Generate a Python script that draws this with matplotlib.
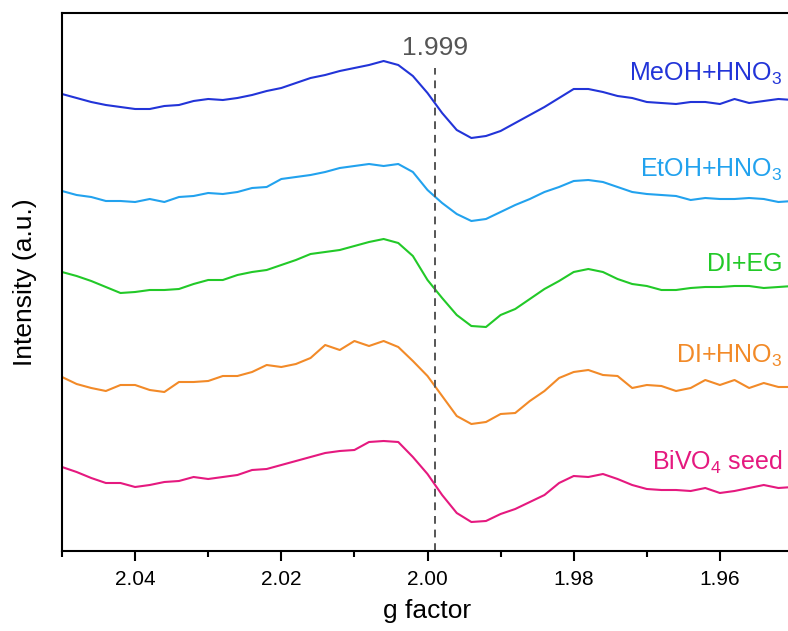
import numpy as np
import matplotlib
matplotlib.use("Agg")
import matplotlib.pyplot as plt
from matplotlib.ticker import MultipleLocator

plt.rcParams['font.family'] = ['Liberation Sans', 'DejaVu Sans']
plt.rcParams['mathtext.fontset'] = 'custom'
plt.rcParams['mathtext.rm'] = 'Liberation Sans'
plt.rcParams['mathtext.it'] = 'Liberation Sans'

# g factor grid (2.050 -> 1.950, step 0.002)
g = [2.050, 2.048, 2.046, 2.044, 2.042, 2.040, 2.038, 2.036, 2.034, 2.032,
     2.030, 2.028, 2.026, 2.024, 2.022, 2.020, 2.018, 2.016, 2.014, 2.012,
     2.010, 2.008, 2.006, 2.004, 2.002, 2.000, 1.998, 1.996, 1.994, 1.992,
     1.990, 1.988, 1.986, 1.984, 1.982, 1.980, 1.978, 1.976, 1.974, 1.972,
     1.970, 1.968, 1.966, 1.964, 1.962, 1.960, 1.958, 1.956, 1.954, 1.952,
     1.950]

# stacked intensities (a.u., offsets included)
meoh = [457, 453, 449, 446, 444, 442, 442, 445, 446, 450,
        452, 451, 453, 456, 460, 463, 468, 473, 476, 480,
        483, 486, 490, 486, 475, 458, 438, 421, 413, 415,
        420, 428, 436, 444, 453, 462, 462, 459, 455, 453,
        449, 448, 447, 449, 449, 447, 452, 448, 450, 452,
        451]
etoh = [360, 356, 354, 350, 350, 349, 352, 349, 354, 355,
        358, 357, 359, 363, 364, 372, 374, 376, 379, 383,
        385, 387, 385, 387, 379, 361, 348, 337, 330, 332,
        339, 346, 352, 359, 364, 370, 371, 369, 364, 359,
        357, 356, 355, 351, 353, 352, 352, 353, 352, 349,
        350]
di_eg = [279, 275, 270, 264, 258, 259, 261, 261, 262, 267,
         271, 271, 276, 279, 281, 286, 291, 297, 299, 301,
         305, 309, 312, 308, 295, 271, 253, 236, 225, 224,
         236, 242, 252, 262, 270, 279, 282, 279, 272, 267,
         265, 261, 261, 263, 264, 264, 265, 265, 263, 264,
         265]
di_hno3 = [174, 167, 163, 160, 166, 166, 161, 159, 169, 169,
           170, 175, 175, 179, 186, 184, 187, 193, 206, 201,
           210, 205, 210, 204, 190, 175, 155, 135, 127, 129,
           137, 138, 150, 160, 173, 179, 181, 176, 175, 163,
           166, 165, 160, 163, 171, 166, 171, 163, 168, 164,
           164]
bivo4 = [84, 79, 73, 68, 68, 64, 66, 69, 70, 74,
         72, 74, 76, 81, 82, 86, 90, 94, 98, 100,
         101, 109, 110, 109, 94, 77, 56, 38, 29, 30,
         37, 42, 49, 56, 68, 75, 74, 77, 72, 66,
         62, 61, 61, 60, 63, 58, 60, 63, 66, 63,
         64]

names = ['MeOH+HNO$_3$', 'EtOH+HNO$_3$', 'DI+EG', 'DI+HNO$_3$', 'BiVO$_4$ seed']
series = [meoh, etoh, di_eg, di_hno3, bivo4]
label_y = [470, 374, 280, 188, 81]
colors = ['#2234d8', '#22a2ee', '#22c928', '#f28a28', '#e5197f']

g_line = 1.999

fig = plt.figure(figsize=(7.88, 6.31), dpi=100)
ax = fig.add_axes([62 / 788, 80 / 631, 731 / 788, 538 / 631])

for ys, c, name, ly in zip(series, colors, names, label_y):
    ax.plot(g, ys, color=c, lw=1.5)
    ax.text(1.9515, ly, name, color=c, fontsize=18, ha='right', va='baseline')

ax.plot([g_line, g_line], [0, 483], color='#555555', lw=1.4, ls=(0, (4, 3)))
ax.text(g_line, 496, '%.3f' % g_line, color='#555555', fontsize=19,
        ha='center', va='baseline')

ax.set_xlim(2.05, 1.95)
ax.set_ylim(0, 538)
ax.set_yticks([])
ax.xaxis.set_major_locator(MultipleLocator(0.02))
ax.xaxis.set_minor_locator(MultipleLocator(0.01))
ax.tick_params(axis='x', which='major', length=7, width=1.5, labelsize=15, pad=7)
ax.tick_params(axis='x', which='minor', length=4, width=1.5)
for s in ax.spines.values():
    s.set_linewidth(1.5)

ax.set_xlabel('g factor', fontsize=19, labelpad=7)
ax.set_ylabel('Intensity (a.u.)', fontsize=19, labelpad=18)

fig.savefig('out.png', dpi=100)
